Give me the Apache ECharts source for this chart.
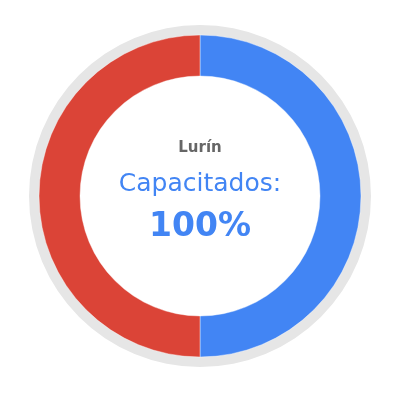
<!DOCTYPE html>
<html><head><meta charset="utf-8">
<script src="https://cdn.jsdelivr.net/npm/echarts@6/dist/echarts.min.js"></script>
<style>html,body{margin:0;padding:0;background:#fff}#c{width:400px;height:400px}</style>
</head><body><div id="c"></div>
<script>
const categories = ['Capacitados', 'Pendientes'];
const values = [50, 50];
const colors = ['#4285F4', '#DB4437'];
const place = 'Lurín';
const label = 'Capacitados:';
const percent = '100%';

const chart = echarts.init(document.getElementById('c'));
chart.setOption({
  animation: false,
  series: [
    {
      type: 'pie', silent: true, center: [200, 196], radius: [160, 171],
      label: {show: false}, labelLine: {show: false},
      itemStyle: {color: '#E6E6E6'},
      data: [{name: 'bg', value: 1}]
    },
    {
      type: 'pie', silent: true, center: [200, 196], radius: [120, 161],
      startAngle: 90, clockwise: true,
      label: {show: false}, labelLine: {show: false},
      itemStyle: {borderColor: 'rgba(255,255,255,0.4)', borderWidth: 1},
      data: categories.map((n, i) => ({name: n, value: values[i], itemStyle: {color: colors[i]}}))
    }
  ],
  graphic: [
    {type: 'text', left: 'center', top: 141, style: {text: place, fill: '#666', font: 'bold 15px "DejaVu Sans"'}},
    {type: 'text', left: 'center', top: 172, style: {text: label, fill: '#4285F4', font: 'normal 25px "DejaVu Sans"'}},
    {type: 'text', left: 'center', top: 211, style: {text: percent, fill: '#4285F4', font: 'bold 33px "DejaVu Sans"'}}
  ]
});
</script></body></html>
